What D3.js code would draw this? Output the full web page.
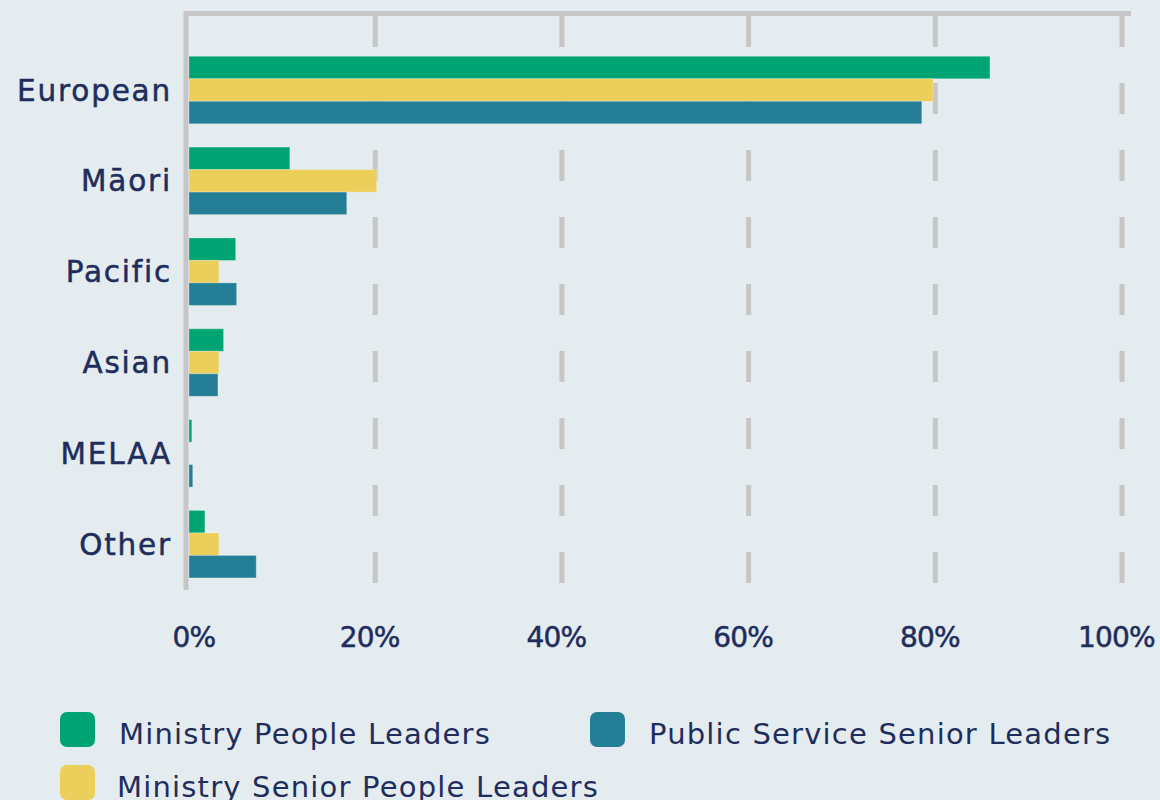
<!DOCTYPE html>
<html>
<head>
<meta charset="utf-8">
<script src="https://cdn.jsdelivr.net/npm/d3@7"></script>
<style>
  html, body { margin: 0; padding: 0; background: #e4ecf0; }
  svg { display: block; }
  text { font-family: "DejaVu Sans", "Noto Sans", sans-serif; fill: #1f2d5c; }
</style>
</head>
<body>
<svg id="chart" width="1160" height="800"></svg>
<script>
const categories = ["European", "Māori", "Pacific", "Asian", "MELAA", "Other"];
const seriesNames = ["Ministry People Leaders", "Ministry Senior People Leaders", "Public Service Senior Leaders"];
const ministryPeopleLeaders = [85.8, 10.8, 5.0, 3.7, 0.3, 1.7];
const ministrySeniorPeopleLeaders = [79.7, 20.1, 3.2, 3.2, 0, 3.2];
const publicServiceSeniorLeaders = [78.5, 16.9, 5.1, 3.1, 0.4, 7.2];
const tickValues = [0, 20, 40, 60, 80, 100];
const tickLabels = ["0%", "20%", "40%", "60%", "80%", "100%"];
const colors = ["#00a472", "#ecce5a", "#247f96"];

const seriesValues = [ministryPeopleLeaders, ministrySeniorPeopleLeaders, publicServiceSeniorLeaders];

const svg = d3.select("#chart");
svg.append("rect").attr("width", 1160).attr("height", 800).attr("fill", "#e4ecf0");

const x = d3.scaleLinear().domain([0, 100]).range([188.5, 1122]);
const y = d3.scaleBand().domain(categories).range([44.6, 589.6]).paddingInner(0.257).paddingOuter(0.1285);
const ySub = d3.scaleBand().domain(d3.range(seriesNames.length)).range([0, y.bandwidth()]);

// gridlines (dashed)
svg.append("g").selectAll("line").data(tickValues.filter(d => d > 0)).join("line")
  .attr("x1", d => x(d)).attr("x2", d => x(d))
  .attr("y1", 16).attr("y2", 589)
  .attr("stroke", "#c6c6c6").attr("stroke-width", 5)
  .attr("stroke-dasharray", "31,36").attr("stroke-dashoffset", 0);

// top border line
svg.append("line").attr("x1", 184).attr("x2", 1131).attr("y1", 13.5).attr("y2", 13.5)
  .attr("stroke", "#c6c6c6").attr("stroke-width", 5);

// bars
const groups = svg.append("g").selectAll("g").data(categories).join("g")
  .attr("transform", c => `translate(0,${y(c)})`);
groups.selectAll("rect").data((c, ci) => seriesValues.map((vals, si) => ({ si, v: vals[ci] }))).join("rect")
  .attr("x", x(0)+0.5)
  .attr("y", d => ySub(d.si))
  .attr("width", d => Math.max(0, x(d.v) - x(0)))
  .attr("height", ySub.bandwidth())
  .attr("fill", d => colors[d.si])
  .attr("stroke", d => d.v > 0 ? "rgba(255,255,255,0.25)" : "none")
  .attr("stroke-width", 1);

// left axis line
svg.append("line").attr("x1", 186).attr("x2", 186).attr("y1", 11).attr("y2", 590)
  .attr("stroke", "#c6c6c6").attr("stroke-width", 5);

// category labels
const yAxis = d3.axisLeft(y).tickSize(0).tickPadding(0);
const ya = svg.append("g").attr("transform", "translate(172,0)").call(yAxis);
ya.select(".domain").remove();
ya.selectAll("text").style("font-size", "29.5px").style("font-family", "'DejaVu Sans', sans-serif")
  .style("letter-spacing", "1.8px")
  .attr("fill", "#1f2d5c").attr("stroke", "#1f2d5c").attr("stroke-width", 0.5)
  .attr("text-anchor", "end").attr("dy", "0.36em");

// x tick labels
const xAxis = d3.axisBottom(x).tickValues(tickValues).tickFormat((d, i) => tickLabels[i]).tickSize(0).tickPadding(0);
const xa = svg.append("g").attr("transform", "translate(0,647)").call(xAxis);
xa.select(".domain").remove();
xa.selectAll("text").style("font-size", "28px").style("font-family", "'DejaVu Sans', sans-serif")
  .style("letter-spacing", "-0.8px")
  .attr("fill", "#1f2d5c").attr("stroke", "#1f2d5c").attr("stroke-width", 0.5)
  .attr("dy", 0).attr("dx", d => d === 0 ? 5 : (d === 100 ? -6 : -6));

// legend (column-major, 2 rows)
const legend = svg.append("g");
const li = legend.selectAll("g").data(seriesNames).join("g")
  .attr("transform", (d, i) => `translate(${Math.floor(i / 2) * 530 + 60},${(i % 2) * 53 + 712})`);
li.append("rect").attr("width", 35).attr("height", 35).attr("rx", 7).attr("fill", (d, i) => colors[i]);
li.append("text").attr("x", (d, i) => i === 1 ? 57 : 59).attr("y", 32).text(d => d)
  .style("font-size", "29px").style("letter-spacing", "1.2px").attr("fill", "#1f2d5c");
</script>
</body>
</html>
